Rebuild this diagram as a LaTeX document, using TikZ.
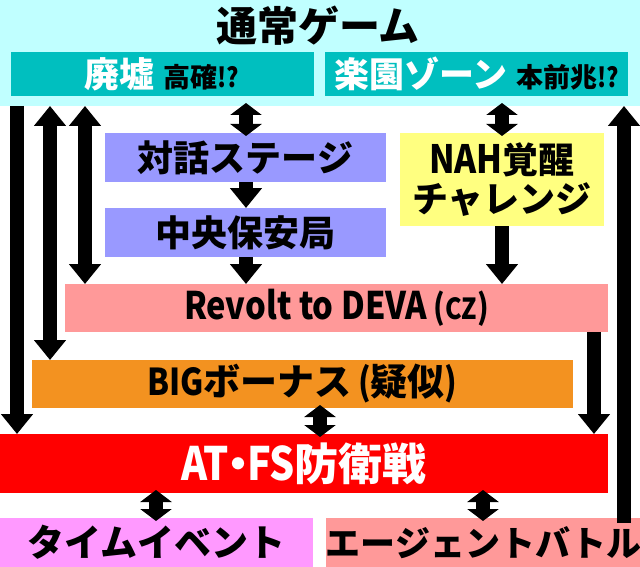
\documentclass[tikz,border=0pt]{standalone}
\usepackage{fontspec}
\setmainfont{Noto Sans CJK JP}[UprightFont={* Black}]
\newfontfamily\lat{Noto Sans CJK JP}[UprightFont={* Black},FakeStretch=0.86]
\usetikzlibrary{arrows.meta}
\definecolor{cyanbg}{HTML}{C0FFFF}
\definecolor{teal}{HTML}{00BFBF}
\definecolor{lav}{HTML}{9999FF}
\definecolor{yel}{HTML}{FFFF80}
\definecolor{pink}{HTML}{FF9999}
\definecolor{orng}{HTML}{F39220}
\definecolor{magp}{HTML}{FF99FF}
\newcommand{\fs}[1]{\fontsize{#1}{#1}\selectfont}
\begin{document}
\begin{tikzpicture}[x=1pt,y=-1pt,
  box/.style={draw=none,inner sep=0pt,outer sep=0pt,align=center},
  arr/.style={line width=14pt,-{Triangle[width=31pt,length=20pt]}},
  darr/.style={line width=14pt,{Triangle[width=31pt,length=20pt]}-{Triangle[width=31pt,length=20pt]}},
  sdarr/.style={line width=14pt,shorten <=-3pt,shorten >=-3pt,{Triangle[width=31pt,length=12pt]}-{Triangle[width=31pt,length=12pt]}}]
\useasboundingbox (0,0) rectangle (640,567);
\fill[white] (0,0) rectangle (640,567);
\node[box,fill=cyanbg,minimum width=640pt,minimum height=106pt] (top) at (320,53) {};
\node[box,font=\fs{41}] (title) at (318,26) {通常ゲーム};
\node[box,fill=teal,minimum width=303pt,minimum height=44pt] (haikyo) at (162,74)
  {{\color{white}\fs{35}廃墟}\hspace{9pt}{\fs{27}高確{\lat!?}}};
\node[box,fill=teal,minimum width=303pt,minimum height=44pt] (rakuen) at (476.5,74)
  {{\color{white}\fs{35}楽園ゾーン}\hspace{9pt}{\fs{27}本前兆{\lat!?}}};
\node[box,fill=lav,minimum width=281pt,minimum height=49pt,font=\fs{36}] (taiwa) at (245.5,157.5) {対話ステージ};
\node[box,fill=lav,minimum width=281pt,minimum height=49pt,font=\fs{36}] (chuo) at (245.5,232.5) {中央保安局};
\node[box,fill=yel,minimum width=204pt,minimum height=93pt,font=\fs{36}] (nah) at (502,179.5) {{\lat\fs{39}NAH}覚醒\\[3pt]チャレンジ};
\node[box,fill=pink,minimum width=543pt,minimum height=48pt,font=\lat\fs{38}] (revolt) at (336.5,308) {Revolt to DEVA\,{\fs{34}({\fs{29}CZ})}};
\node[box,fill=orng,minimum width=541pt,minimum height=48pt,font=\fs{37}] (big) at (302.5,384) {{\lat\fs{37}BIG}ボーナス{\lat\fs{37}\,(}疑似{\lat\fs{37})}};
\node[box,fill=red,minimum width=608pt,minimum height=59pt,font=\fs{44},text=white] (at) at (304,463.5) {{\lat\fs{46}AT}\kern-13pt・\kern-13pt{\lat\fs{46}FS}防衛戦};
\node[box,fill=magp,minimum width=313pt,minimum height=49pt,font=\fs{37}] (time) at (156.5,542.5) {タイムイベント};
\node[box,fill=pink,minimum width=313pt,minimum height=49pt,font=\fs{35}] (agent) at (483.5,542.5) {エージェントバトル};
\coordinate (x1) at (17,0);
\coordinate (x2) at (50,0);
\coordinate (x3) at (85,0);
\coordinate (x4) at (246,0);
\coordinate (x5) at (502,0);
\coordinate (x6) at (594,0);
\coordinate (x7) at (624,0);
\coordinate (x8) at (320,0);
\coordinate (x9) at (156,0);
\coordinate (x10) at (483,0);
\draw[arr] (x1 |- top.south) -- (x1 |- at.north);
\draw[darr] (x2 |- top.south) -- (x2 |- big.north);
\draw[darr] (x3 |- top.south) -- (x3 |- revolt.north);
\draw[sdarr] (x4 |- top.south) -- (x4 |- taiwa.north);
\draw[arr] (x4 |- taiwa.south) -- (x4 |- chuo.north);
\draw[arr] (x4 |- chuo.south) -- (x4 |- revolt.north);
\draw[sdarr] (x5 |- top.south) -- (x5 |- nah.north);
\draw[arr] (x5 |- nah.south) -- (x5 |- revolt.north);
\draw[arr] (x6 |- revolt.south) -- (x6 |- at.north);
\draw[arr] ([yshift=-5pt]x7 |- agent.north) -- (x7 |- top.south);
\draw[sdarr] (x8 |- big.south) -- (x8 |- at.north);
\draw[sdarr] (x9 |- at.south) -- (x9 |- time.north);
\draw[sdarr] (x10 |- at.south) -- (x10 |- agent.north);
\end{tikzpicture}
\end{document}
